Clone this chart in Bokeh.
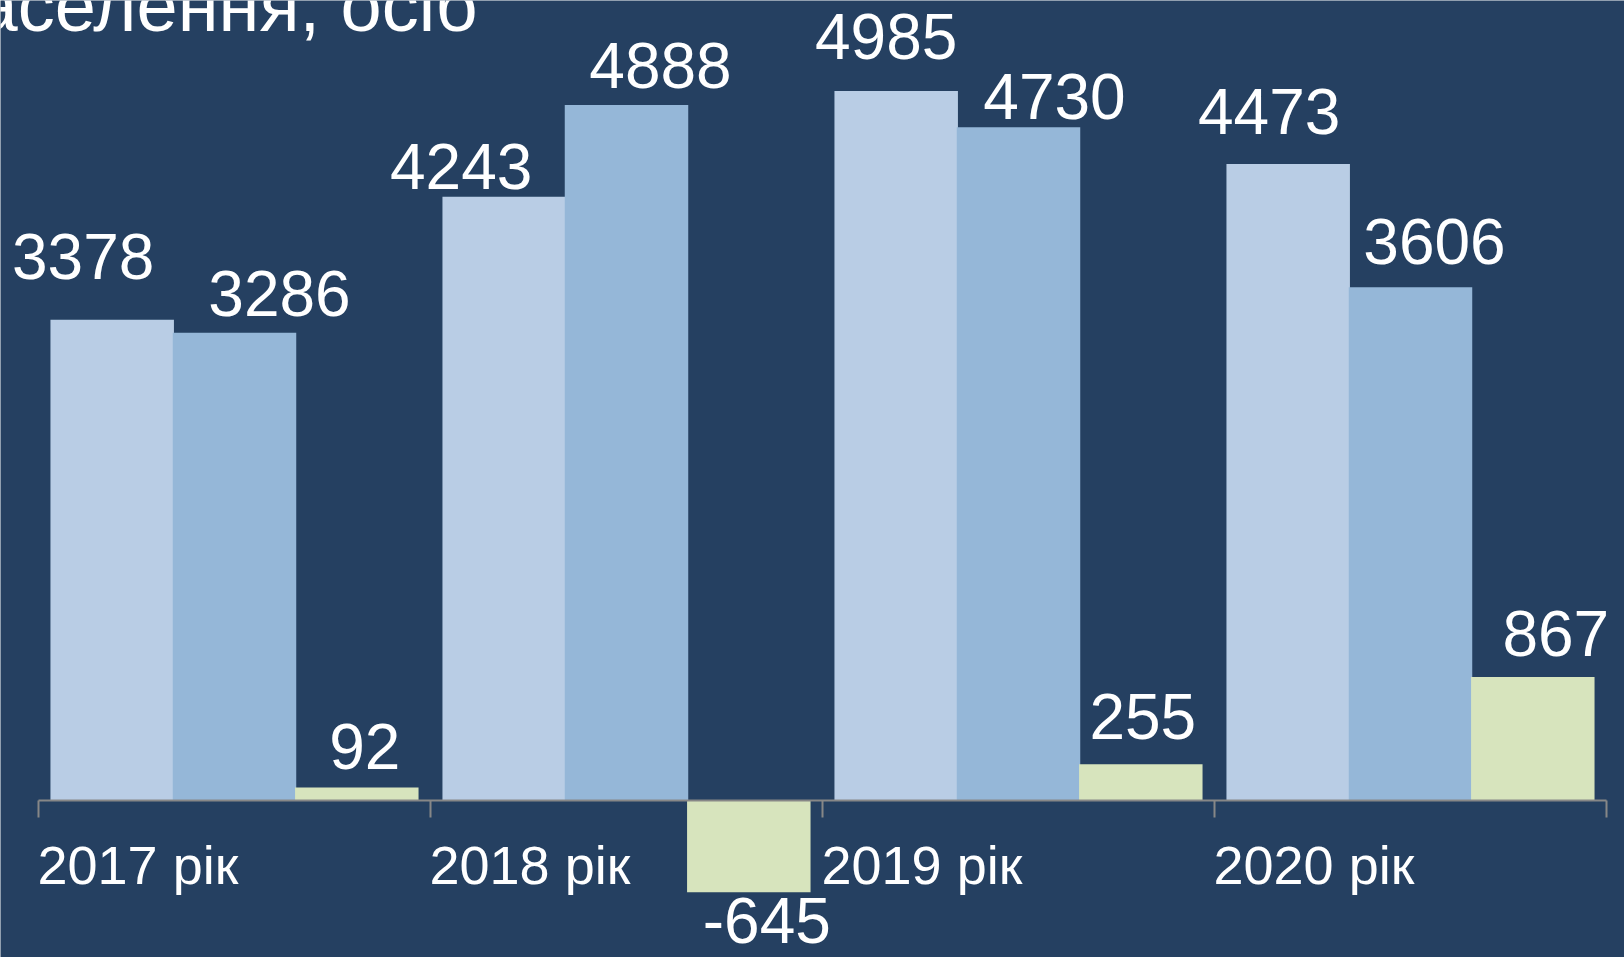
from bokeh.plotting import figure
from bokeh.models import ColumnDataSource, Range1d, FixedTicker
from bokeh.embed import file_html
from bokeh.resources import INLINE
from bokeh.core.properties import value
from bokeh.transform import dodge

# ---- data ----
years = ["2017 рік", "2018 рік", "2019 рік", "2020 рік"]
arrived = [3378, 4243, 4985, 4473]
departed = [3286, 4888, 4730, 3606]
net = [92, -645, 255, 867]
title_text = "аселення, осіб"

# ---- label nudges in pixels (dx right, dy down from bar end) ----
nudge_arrived = ([-29, -43, -10, -19], [-63, -30, -55, -52])
nudge_departed = ([45, 34, 36, 24], [-39, -39, -31, -46])
nudge_net = ([8, 18, 2, 23], [-41, 28, -48, -44])

BG = "#254061"
C_ARR = "#B9CDE5"
C_DEP = "#95B7D8"
C_NET = "#D7E4BD"
FONT = value("Liberation Sans")

W, H = 1624, 957
p = figure(width=W, height=H, output_backend="svg", toolbar_location=None,
           x_range=Range1d(-0.59694, 3.54592), y_range=Range1d(-1103.2, 5621.5),
           min_border=0, min_border_left=0, min_border_right=0,
           min_border_top=0, min_border_bottom=0)
p.background_fill_color = BG
p.border_fill_color = BG
p.outline_line_color = None
p.xgrid.visible = False
p.ygrid.visible = False
p.yaxis.visible = False

xi = list(range(len(years)))
off = 0.312
bw = 0.315

series = [
    (arrived, C_ARR, -off, nudge_arrived),
    (departed, C_DEP, 0.0, nudge_departed),
    (net, C_NET, off, nudge_net),
]
for vals, col, o, (dx, dy) in series:
    src = ColumnDataSource(dict(x=xi, v=vals, t=[str(v) for v in vals], dx=dx, dy=dy))
    p.vbar(x=dodge("x", o), top="v", bottom=0, width=bw, source=src,
           fill_color=col, line_color=None)
    p.text(x=dodge("x", o), y="v", text="t", x_offset="dx", y_offset="dy", source=src,
           text_font=FONT, text_font_size="64px", text_color="white",
           text_align="center", text_baseline="alphabetic")

# category labels, left-aligned at each category's start
csrc = ColumnDataSource(dict(x=[i - 0.5 for i in xi], y=[0] * len(xi), t=years))
p.text(x="x", y="y", text="t", source=csrc, x_offset=-1, y_offset=64,
       text_font=FONT, text_font_size="54px", text_color="white",
       text_align="left", text_baseline="alphabetic")

# title (clipped at the left edge as in the original)
p.text(x=[-0.65816], y=[5583], text=[title_text], text_font=FONT,
       text_font_size="74px", text_color="white", text_align="left",
       text_baseline="alphabetic")

ticks = [i - 0.5 for i in range(len(years) + 1)]
ax = p.xaxis[0]
ax.fixed_location = 0
ax.bounds = (-0.5, len(years) - 0.5)
ax.ticker = FixedTicker(ticks=ticks)
ax.major_label_overrides = {t: "" for t in ticks}
ax.axis_line_color = "#878787"
ax.axis_line_width = 2
ax.major_tick_line_color = "#878787"
ax.major_tick_line_width = 2
ax.major_tick_in = 0
ax.major_tick_out = 17
ax.minor_tick_line_color = None

open("out.html", "w").write(file_html(p, INLINE))
